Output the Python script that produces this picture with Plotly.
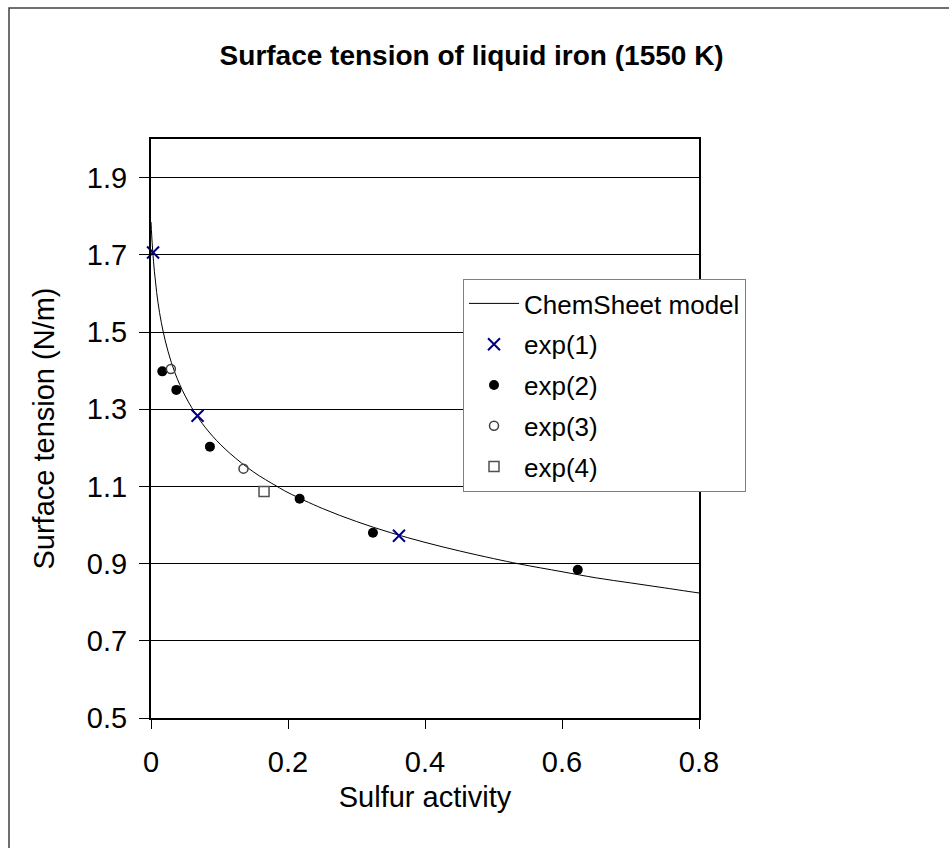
import plotly.graph_objects as go

# ---- data ----
model_x = [0.0, 0.001, 0.0025, 0.005, 0.0083, 0.0125, 0.018, 0.025, 0.035, 0.05,
           0.07, 0.09, 0.115, 0.15, 0.183, 0.2, 0.25, 0.3, 0.35, 0.4, 0.45, 0.5,
           0.538, 0.6, 0.65, 0.7, 0.75, 0.8, 0.81]
model_y = [1.785, 1.751, 1.710, 1.656, 1.602, 1.550, 1.499, 1.449, 1.394, 1.334,
           1.275, 1.230, 1.186, 1.137, 1.101, 1.084, 1.043, 1.009, 0.980, 0.955,
           0.933, 0.913, 0.899, 0.879, 0.863, 0.850, 0.837, 0.824, 0.822]

exp1_x = [0.003, 0.068, 0.362]
exp1_y = [1.706, 1.283, 0.972]

exp2_x = [0.0165, 0.037, 0.086, 0.217, 0.324, 0.623]
exp2_y = [1.398, 1.350, 1.203, 1.068, 0.980, 0.884]

exp3_x = [0.029, 0.135]
exp3_y = [1.404, 1.146]

exp4_x = [0.165]
exp4_y = [1.087]

x_ticks = [0, 0.2, 0.4, 0.6, 0.8]
x_tick_text = ["0", "0.2", "0.4", "0.6", "0.8"]
y_ticks = [0.5, 0.7, 0.9, 1.1, 1.3, 1.5, 1.7, 1.9]
y_tick_text = ["0.5", "0.7", "0.9", "1.1", "1.3", "1.5", "1.7", "1.9"]

# ---- layout geometry (pixels) ----
W, H = 949, 848
PL, PR, PT, PB = 151, 699, 139, 718
pw, ph = PR - PL, PB - PT

def px_to_paper_x(px):
    return (px - PL) / pw

def py_to_paper_y(py):
    return (PB - py) / ph

FONT = "Liberation Sans, Arial, sans-serif"

fig = go.Figure()
fig.add_trace(go.Scatter(x=model_x, y=model_y, mode="lines", name="ChemSheet model",
                         line=dict(color="black", width=1, shape="spline"),
                         legendgroup="a"))
fig.add_trace(go.Scatter(x=exp1_x, y=exp1_y, mode="markers", name="exp(1)",
                         marker=dict(symbol="x-thin-open", size=12, color="#000080",
                                     line=dict(color="#000080", width=2)),
                         legendgroup="b", cliponaxis=False))
fig.add_trace(go.Scatter(x=exp2_x, y=exp2_y, mode="markers", name="exp(2)",
                         marker=dict(symbol="circle", size=10, color="black"),
                         legendgroup="c", cliponaxis=False))
fig.add_trace(go.Scatter(x=exp3_x, y=exp3_y, mode="markers", name="exp(3)",
                         marker=dict(symbol="circle-open", size=9, color="#404040",
                                     line=dict(color="#404040", width=1.5)),
                         legendgroup="d", cliponaxis=False))
fig.add_trace(go.Scatter(x=exp4_x, y=exp4_y, mode="markers", name="exp(4)",
                         marker=dict(symbol="square-open", size=10, color="#505050",
                                     line=dict(color="#505050", width=1.5)),
                         legendgroup="e", cliponaxis=False))

fig.update_layout(
    width=W, height=H,
    margin=dict(l=PL, r=W - PR, t=PT, b=H - PB, pad=0),
    paper_bgcolor="white", plot_bgcolor="white",
    font=dict(family=FONT, size=29, color="black"),
    title=dict(text="<b>Surface tension of liquid iron (1550 K)</b>",
               font=dict(family=FONT, size=28, color="black"),
               x=0.497, xref="container", xanchor="center",
               y=1 - 55 / H, yref="container", yanchor="middle"),
    showlegend=True,
    legend=dict(x=px_to_paper_x(463), y=py_to_paper_y(279), xanchor="left", yanchor="top",
                bgcolor="white", bordercolor="#808080", borderwidth=1,
                font=dict(family=FONT, size=26, color="black"),
                traceorder="grouped", tracegroupgap=4, itemwidth=50),
    xaxis=dict(range=[0, 0.8], tickvals=x_ticks, ticktext=x_tick_text,
               showgrid=False, zeroline=False,
               showline=True, linecolor="black", linewidth=2, mirror=True,
               ticks="outside", ticklen=9, tickwidth=1, tickcolor="black",
               ticklabelstandoff=8, tickfont=dict(size=29),
               title=dict(text="Sulfur activity", font=dict(family=FONT, size=29),
                          standoff=10)),
    yaxis=dict(range=[0.5, 2.0], tickvals=y_ticks, ticktext=y_tick_text,
               showgrid=True, gridcolor="black", gridwidth=1, zeroline=False,
               showline=True, linecolor="black", linewidth=2, mirror=True,
               ticks="outside", ticklen=10, tickwidth=1, tickcolor="black",
               ticklabelstandoff=6, tickfont=dict(size=29),
               title=dict(text="Surface tension (N/m)", font=dict(family=FONT, size=29),
                          standoff=24)),
    shapes=[dict(type="rect", xref="paper", yref="paper",
                 x0=px_to_paper_x(9), x1=px_to_paper_x(970),
                 y0=py_to_paper_y(870), y1=py_to_paper_y(8),
                 line=dict(color="#404040", width=1.5), layer="below")],
)

fig.write_html("out.html")
